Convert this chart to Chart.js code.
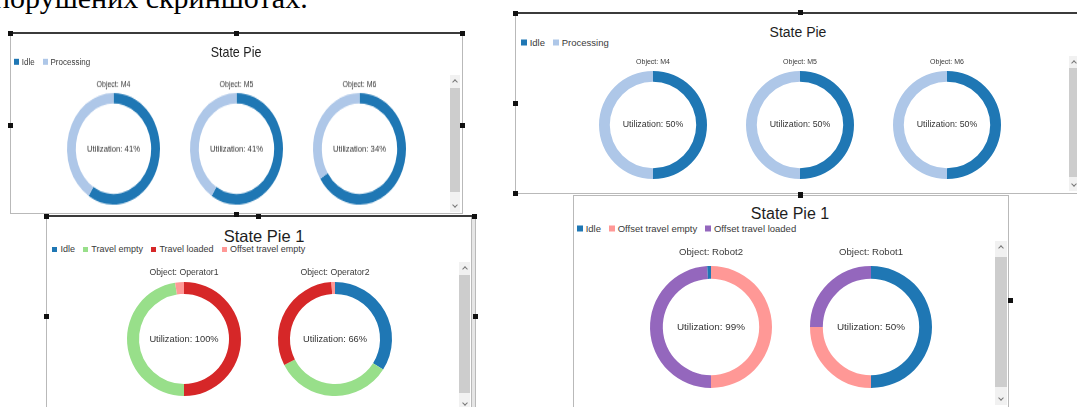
<!DOCTYPE html>
<html>
<head>
<meta charset="utf-8">
<script src="https://cdn.jsdelivr.net/npm/chart.js@4.4.0/dist/chart.umd.min.js"></script>
<style>
  html, body { margin: 0; padding: 0; background: #fff; }
  body { width: 1077px; height: 407px; position: relative; overflow: hidden; font-family: 'Liberation Sans', Arial, sans-serif; }
  .panel { position: absolute; background: #fff; border: 1px solid #b9b9b9; box-sizing: border-box; }
  .bar { position: absolute; height: 2px; background: #3b3b3b; }
  .handle { position: absolute; width: 5px; height: 5px; background: #111; }
  .title { position: absolute; text-align: center; color: #1e1e1e; white-space: nowrap; transform: translate(-50%, -50%); }
  .legend { position: absolute; white-space: nowrap; color: #3a3a3a; transform: translateY(-50%); }
  .legend .sw { display: inline-block; width: 0.6em; height: 0.6em; margin-right: 3px; }
  .legend .it { margin-right: 8px; }
  .track { position: absolute; background: #f1f1f1; }
  .thumb { position: absolute; background: #cdcdcd; }
  .chev { position: absolute; width: 3px; height: 3px; border: solid #777; border-width: 1px 0 0 1px; }
  .head { position: absolute; left: -6px; top: -17px; font-family: 'Liberation Serif', serif; font-size: 30px; line-height: 1; color: #000; white-space: nowrap; }
  canvas { position: absolute; }
</style>
</head>
<body>
<div class="head">порушених скриншотах.</div>
<script>
Chart.defaults.font.family = "'Liberation Sans', Arial, sans-serif"
Chart.defaults.animation = false

// State Pie, left screenshot
const pieA_objects = ['M4', 'M5', 'M6']
const pieA_states = ['Idle', 'Processing']
const pieA_idle = [59, 59, 66]
const pieA_processing = [41, 41, 34]
const pieA_util = [41, 41, 34]

// State Pie, right screenshot
const pieB_objects = ['M4', 'M5', 'M6']
const pieB_idle = [50, 50, 50]
const pieB_processing = [50, 50, 50]
const pieB_util = [50, 50, 50]

// State Pie 1, operators (states listed in the order each ring draws them)
const pieC_legend = ['Idle', 'Travel empty', 'Travel loaded', 'Offset travel empty']
const operator1States = ['Travel loaded', 'Travel empty', 'Offset travel empty']
const operator1Values = [50, 47.5, 2.5]
const operator2States = ['Idle', 'Travel empty', 'Travel loaded', 'Offset travel empty']
const operator2Values = [34, 33.5, 31.5, 1]
const pieC_util = [100, 66]

// State Pie 1, robots
const pieD_legend = ['Idle', 'Offset travel empty', 'Offset travel loaded']
const robot2States = ['Offset travel empty', 'Offset travel loaded', 'Idle']
const robot2Values = [50, 49, 1]
const robot1States = ['Idle', 'Offset travel empty', 'Offset travel loaded']
const robot1Values = [50, 25, 25]
const pieD_util = [99, 50]

const stateColors = {
  'Idle': '#1f77b4',
  'Processing': '#aec7e8',
  'Travel empty': '#98df8a',
  'Travel loaded': '#d62728',
  'Offset travel empty': '#ff9896',
  'Offset travel loaded': '#9467bd',
}

const centerText = {
  id: 'centerText',
  afterDraw(chart, args, opts) {
    const { ctx, chartArea } = chart
    ctx.save()
    ctx.font = opts.size + "px 'Liberation Sans', Arial, sans-serif"
    ctx.fillStyle = '#333'
    ctx.textAlign = 'center'
    ctx.textBaseline = 'middle'
    ctx.fillText(opts.text, (chartArea.left + chartArea.right) / 2, (chartArea.top + chartArea.bottom) / 2)
    ctx.restore()
  },
}

function el(parent, cls, css, html) {
  const d = document.createElement('div')
  d.className = cls
  Object.assign(d.style, css)
  if (html) d.innerHTML = html
  parent.appendChild(d)
  return d
}

function donut(host, o) {
  const c = document.createElement('canvas')
  const d = Math.round(o.r * 2)
  const w = d + 30
  const top = Math.round(o.labelY - o.labelSize * 0.6)
  const headH = Math.round(o.cy - o.r) - top
  const h = headH + d
  c.width = w
  c.height = h
  c.style.left = Math.round(o.cx - w / 2) + 'px'
  c.style.top = top + 'px'
  c.style.width = w + 'px'
  c.style.height = h + 'px'
  host.appendChild(c)
  new Chart(c, {
    type: 'doughnut',
    data: {
      labels: o.states,
      datasets: [{
        data: o.values,
        backgroundColor: o.states.map(s => stateColors[s]),
        borderWidth: 0,
        hoverOffset: 0,
      }],
    },
    options: {
      responsive: false,
      cutout: o.cutout,
      layout: { padding: 0 },
      events: [],
      plugins: {
        legend: { display: false },
        tooltip: { enabled: false },
        title: {
          display: true,
          text: 'Object: ' + o.name,
          color: '#3a3a3a',
          font: { size: o.labelSize, weight: 'normal' },
          padding: { top: 0, bottom: headH - o.labelSize * 1.2 },
        },
        centerText: { text: 'Utilization: ' + o.util + '%', size: o.utilSize },
      },
    },
    plugins: [centerText],
  })
}

function legend(host, x, y, size, states) {
  el(host, 'legend', { left: x + 'px', top: y + 'px', fontSize: size + 'px' },
    states.map(s => '<span class="it"><span class="sw" style="background:' + stateColors[s] + '"></span>' + s + '</span>').join(''))
}

function scrollbar(host, x, w, up, t0, t1, down) {
  el(host, 'track', { left: x + 'px', top: (up - 6) + 'px', width: w + 'px', height: (down - up + 12) + 'px' })
  el(host, 'thumb', { left: x + 'px', top: t0 + 'px', width: w + 'px', height: (t1 - t0) + 'px' })
  el(host, 'chev', { left: (x + w / 2 - 2) + 'px', top: (up - 1) + 'px', transform: 'rotate(45deg)' })
  el(host, 'chev', { left: (x + w / 2 - 2) + 'px', top: (down - 3) + 'px', transform: 'rotate(225deg)' })
}

function handles(host, pts) {
  pts.forEach(p => el(host, 'handle', { left: (p[0] - 2) + 'px', top: (p[1] - 2) + 'px' }))
}

const body = document.body

// ---- panel A (top left, stretched vertically in the screenshot)
el(body, 'panel', { left: '10px', top: '33px', width: '453px', height: '181px' })
const wrapA = el(body, '', { position: 'absolute', left: '0px', top: '33px', width: '1077px', height: '150px', transform: 'scaleY(1.2)', transformOrigin: '0 0' })
el(wrapA, 'title', { left: '236px', top: '16px', fontSize: '12.5px' }, 'State Pie')
legend(wrapA, 14, 24, 8, pieA_states)
const centersA = [113, 236, 359]
pieA_objects.forEach((name, i) => {
  donut(wrapA, {
    name, cx: centersA[i], cy: 96.7, r: 46.5, labelY: 43.3, labelSize: 7, utilSize: 7.7, cutout: '81%',
    states: pieA_states, values: [pieA_idle[i], pieA_processing[i]], util: pieA_util[i],
  })
})
el(body, 'bar', { left: '10px', top: '32px', width: '453px' })
scrollbar(body, 450, 10, 81, 88, 192, 206)

// ---- panel B (top right)
el(body, 'panel', { left: '515px', top: '13px', width: '580px', height: '181px' })
el(body, 'title', { left: '798px', top: '32px', fontSize: '14px' }, 'State Pie')
legend(body, 521, 42, 9.5, pieA_states)
const centersB = [653, 800, 947]
pieB_objects.forEach((name, i) => {
  donut(body, {
    name, cx: centersB[i], cy: 125, r: 54, labelY: 62, labelSize: 7, utilSize: 8.8, cutout: '80%',
    states: pieA_states, values: [pieB_idle[i], pieB_processing[i]], util: pieB_util[i],
  })
})
el(body, 'bar', { left: '514px', top: '12px', width: '563px' })
scrollbar(body, 1069, 9, 62, 68, 177, 185)

// ---- panel C (bottom left)
el(body, 'panel', { left: '46px', top: '216px', width: '430px', height: '200px' })
el(body, 'panel', { left: '471px', top: '216px', width: '5px', height: '200px', background: '#e6e6e6' })
el(body, 'title', { left: '264px', top: '236px', fontSize: '16.5px' }, 'State Pie 1')
legend(body, 52, 249, 9, pieC_legend)
donut(body, {
  name: 'Operator1', cx: 184, cy: 339, r: 57, labelY: 272, labelSize: 8.7, utilSize: 9.3, cutout: '79%',
  states: operator1States, values: operator1Values, util: pieC_util[0],
})
donut(body, {
  name: 'Operator2', cx: 335, cy: 339, r: 57, labelY: 272, labelSize: 8.7, utilSize: 9.3, cutout: '79%',
  states: operator2States, values: operator2Values, util: pieC_util[1],
})
el(body, 'bar', { left: '45px', top: '215px', width: '431px' })
scrollbar(body, 459, 11, 268, 275, 393, 404)

// ---- panel D (bottom right)
el(body, 'panel', { left: '573px', top: '195px', width: '436px', height: '220px' })
el(body, 'title', { left: '790px', top: '214px', fontSize: '16px' }, 'State Pie 1')
legend(body, 577, 228, 9.5, pieD_legend)
donut(body, {
  name: 'Robot2', cx: 711, cy: 327, r: 61, labelY: 253, labelSize: 9.6, utilSize: 9.9, cutout: '79%',
  states: robot2States, values: robot2Values, util: pieD_util[0],
})
donut(body, {
  name: 'Robot1', cx: 871, cy: 327, r: 61, labelY: 253, labelSize: 9.6, utilSize: 9.9, cutout: '79%',
  states: robot1States, values: robot1Values, util: pieD_util[1],
})
scrollbar(body, 995, 12, 247, 257, 387, 399)

// selection handles around the pasted screenshots
handles(body, [
  [10, 33], [236, 33], [462, 33], [10, 125], [462, 125], [236, 214],
  [515, 13], [800, 12], [515, 103], [515, 193], [800, 194],
  [46, 216], [258, 216], [474, 216], [46, 316], [475, 316],
  [800, 195], [1010, 300],
])
</script>
</body>
</html>
